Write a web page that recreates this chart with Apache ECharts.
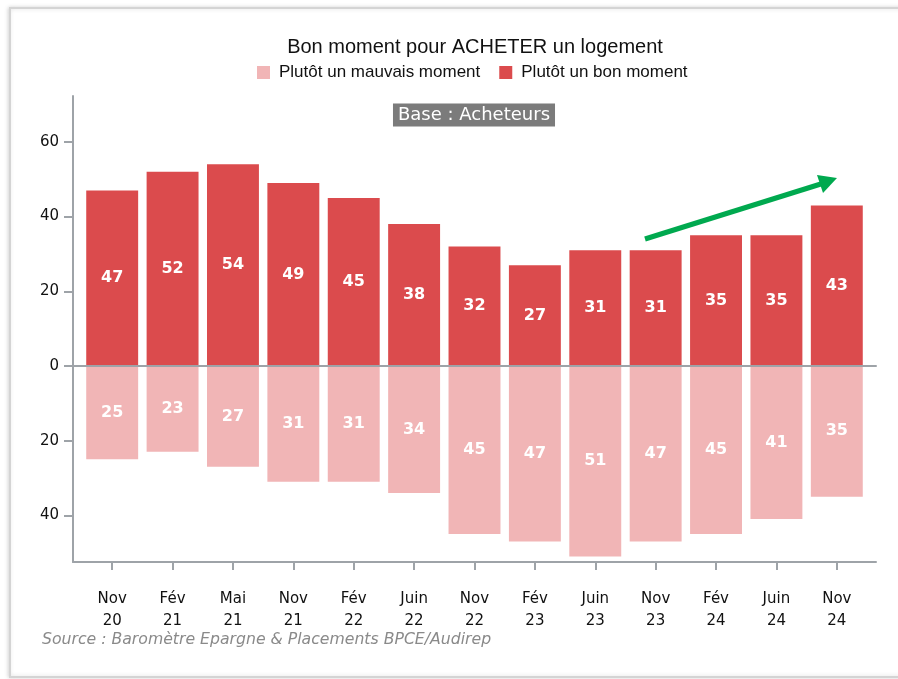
<!DOCTYPE html>
<html>
<head>
<meta charset="utf-8">
<title>Bon moment pour ACHETER un logement</title>
<script src="https://cdn.jsdelivr.net/npm/echarts@6/dist/echarts.min.js"></script>
<style>
  html, body { margin: 0; padding: 0; background: #fff; }
  #chart { width: 898px; height: 679px; }
</style>
</head>
<body>
<div id="chart"></div>
<script>
const categories = ['Nov\n20', 'Fév\n21', 'Mai\n21', 'Nov\n21', 'Fév\n22', 'Juin\n22', 'Nov\n22',
  'Fév\n23', 'Juin\n23', 'Nov\n23', 'Fév\n24', 'Juin\n24', 'Nov\n24']
const bonMoment = [47, 52, 54, 49, 45, 38, 32, 27, 31, 31, 35, 35, 43]
const mauvaisMoment = [25, 23, 27, 31, 31, 34, 45, 47, 51, 47, 45, 41, 35]
const yTicks = [-40, -20, 0, 20, 40, 60]

const RED = '#db4b4d'
const PINK = '#f1b5b6'
const AXIS = '#9ea3a8'
const Y_MIN = -52.5
const Y_MAX = 72.3

const chart = echarts.init(document.getElementById('chart'))

const barLabel = {
  show: true,
  position: 'inside',
  color: '#fff',
  fontFamily: 'DejaVu Sans',
  fontWeight: 'bold',
  fontSize: 16,
  formatter: p => Math.abs(p.value)
}

chart.setOption({
  animation: false,
  textStyle: { fontFamily: 'DejaVu Sans' },
  legend: {
    left: 252,
    top: 59,
    itemWidth: 13,
    itemHeight: 13,
    itemGap: 19,
    icon: 'rect',
    textStyle: { fontFamily: 'Liberation Sans', fontSize: 17, color: '#111', padding: [0, 0, 0, 4] },
    data: ['Plutôt un mauvais moment', 'Plutôt un bon moment']
  },
  grid: [
    { left: 82, right: 31, top: 96, bottom: 117 },
    { left: 73, right: 22, top: 96, bottom: 117 }
  ],
  xAxis: [
    {
      type: 'category',
      gridIndex: 0,
      data: categories,
      axisLine: { show: true, onZero: false, lineStyle: { color: AXIS, width: 2 } },
      axisTick: { show: true, alignWithLabel: true, length: 8, lineStyle: { color: AXIS, width: 2 } },
      axisLabel: { color: '#111', fontSize: 15, lineHeight: 22, margin: 26 }
    },
    {
      type: 'value',
      gridIndex: 1,
      position: 'bottom',
      axisLine: { show: true, onZero: false, lineStyle: { color: AXIS, width: 2 } },
      axisTick: { show: false },
      axisLabel: { show: false },
      splitLine: { show: false }
    },
    {
      type: 'value',
      gridIndex: 1,
      position: 'bottom',
      z: 10,
      axisLine: { show: true, onZero: true, lineStyle: { color: AXIS, width: 2 } },
      axisTick: { show: false },
      axisLabel: { show: false },
      splitLine: { show: false }
    }
  ],
  yAxis: [
    {
      type: 'value',
      gridIndex: 0,
      min: Y_MIN,
      max: Y_MAX,
      show: false
    },
    {
      type: 'value',
      gridIndex: 1,
      min: Y_MIN,
      max: Y_MAX,
      axisLine: { show: true, lineStyle: { color: AXIS, width: 2 } },
      axisTick: { show: true, length: 9, customValues: yTicks, lineStyle: { color: AXIS, width: 2 } },
      axisLabel: {
        customValues: yTicks,
        color: '#111',
        fontSize: 15,
        margin: 14,
        formatter: v => Math.abs(v)
      },
      splitLine: { show: false }
    }
  ],
  series: [
    {
      name: 'Plutôt un mauvais moment',
      type: 'bar',
      stack: 'total',
      xAxisIndex: 0,
      yAxisIndex: 0,
      barCategoryGap: '14%',
      itemStyle: { color: PINK },
      label: barLabel,
      data: mauvaisMoment.map(v => -v)
    },
    {
      name: 'Plutôt un bon moment',
      type: 'bar',
      stack: 'total',
      xAxisIndex: 0,
      yAxisIndex: 0,
      barCategoryGap: '14%',
      itemStyle: { color: RED },
      label: barLabel,
      data: bonMoment
    }
  ],
  graphic: [
    {
      type: 'rect',
      silent: true,
      z: -10,
      shape: { x: 10, y: 8, width: 900, height: 669 },
      style: { fill: '#fff', stroke: '#d4d4d4', lineWidth: 2, shadowBlur: 4, shadowColor: 'rgba(0,0,0,0.15)', shadowOffsetX: -1 }
    },
    {
      type: 'text',
      x: 475,
      y: 47,
      style: {
        text: 'Bon moment pour ACHETER un logement',
        fontFamily: 'Liberation Sans',
        fontSize: 20,
        fill: '#111',
        align: 'center',
        verticalAlign: 'middle'
      }
    },
    {
      type: 'text',
      x: 474,
      y: 115,
      style: {
        text: 'Base : Acheteurs',
        fontFamily: 'DejaVu Sans',
        fontSize: 18,
        fill: '#fff',
        backgroundColor: '#7b7b7b',
        padding: [3, 5, 2, 5],
        align: 'center',
        verticalAlign: 'middle'
      }
    },
    {
      type: 'text',
      x: 42,
      y: 640,
      style: {
        text: 'Source : Baromètre Epargne & Placements BPCE/Audirep',
        fontFamily: 'DejaVu Sans',
        fontStyle: 'italic',
        fontSize: 15.7,
        fill: '#8a8a8a',
        verticalAlign: 'middle'
      }
    },
    // fleche verte de tendance
    {
      type: 'line',
      shape: { x1: 645, y1: 239, x2: 824, y2: 183 },
      style: { stroke: '#00a94f', lineWidth: 5 }
    },
    {
      type: 'polygon',
      shape: { points: [[837, 178], [817, 175], [823, 193]] },
      style: { fill: '#00a94f' }
    }
  ]
})
</script>
</body>
</html>
